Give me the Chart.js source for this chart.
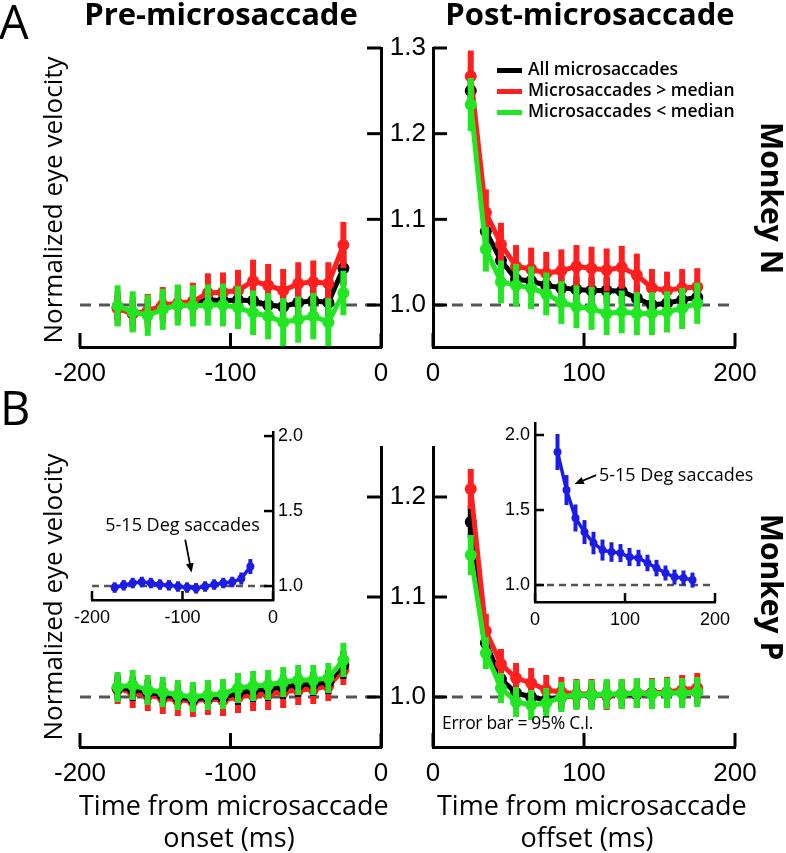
<!DOCTYPE html>
<html>
<head>
<meta charset="utf-8">
<script src="https://cdn.jsdelivr.net/npm/chart.js@4.4.0/dist/chart.umd.min.js"></script>
<style>
body { margin: 0; background: #fff; }
#fig { position: relative; width: 786px; height: 853px; overflow: hidden; }
#fig canvas { position: absolute; left: 0; top: 0; }
.t { position: absolute; white-space: nowrap; font-family: 'Open Sans'; line-height: 1; color: #000; }
.c { text-align: center; }
.sw { position: absolute; width: 25px; height: 5px; }
</style>
</head>
<body>
<div id="fig">
  <canvas id="aPre" width="786" height="853"></canvas>
  <canvas id="aPost" width="786" height="853"></canvas>
  <canvas id="bPre" width="786" height="853"></canvas>
  <canvas id="bPost" width="786" height="853"></canvas>
  <canvas id="insPre" width="786" height="853"></canvas>
  <canvas id="insPost" width="786" height="853"></canvas>

  <div class="t" style="left:-1px;top:-2px;font-size:47px;">A</div>
  <div class="t" style="left:0px;top:384px;font-size:47px;">B</div>
  <div class="t c" style="left:21px;width:400px;top:-2px;font-size:31px;font-weight:700;">Pre-microsaccade</div>
  <div class="t c" style="left:390px;width:400px;top:-2px;font-size:31px;font-weight:700;">Post-microsaccade</div>

  <div class="t c" style="left:-98px;width:300px;top:187px;font-size:26px;transform:rotate(-90deg);">Normalized eye velocity</div>
  <div class="t c" style="left:-98px;width:300px;top:584px;font-size:26px;transform:rotate(-90deg);">Normalized eye velocity</div>
  <div class="t c" style="left:672px;width:200px;top:183px;font-size:30px;font-weight:700;transform:rotate(90deg);">Monkey N</div>
  <div class="t c" style="left:672px;width:200px;top:572px;font-size:30px;font-weight:700;transform:rotate(90deg);">Monkey P</div>

  <div class="t c" style="left:79px;width:300px;top:791px;font-size:27px;">Time from microsaccade</div>
  <div class="t c" style="left:79px;width:300px;top:823px;font-size:27px;">onset (ms)</div>
  <div class="t c" style="left:437px;width:300px;top:791px;font-size:27px;">Time from microsaccade</div>
  <div class="t c" style="left:437px;width:300px;top:823px;font-size:27px;">offset (ms)</div>

  <div class="sw" style="left:497px;top:68px;background:#000;"></div>
  <div class="sw" style="left:497px;top:89px;background:#ff1f1f;"></div>
  <div class="sw" style="left:497px;top:110px;background:#22e622;"></div>
  <div class="t" style="left:528px;top:60px;font-size:17.5px;font-weight:600;">All microsaccades</div>
  <div class="t" style="left:528px;top:81px;font-size:17.5px;font-weight:600;">Microsaccades &gt; median</div>
  <div class="t" style="left:528px;top:102px;font-size:17.5px;font-weight:600;">Microsaccades &lt; median</div>

  <div class="t" style="left:442px;top:714px;font-size:17.5px;letter-spacing:-0.3px;">Error bar = 95% C.I.</div>
</div>

<script>
// time bins (ms)
const tPre = [-175, -165, -155, -145, -135, -125, -115, -105, -95, -85, -75, -65, -55, -45, -35, -25];
const tPost = [25, 35, 45, 55, 65, 75, 85, 95, 105, 115, 125, 135, 145, 155, 165, 175];

// Monkey N
const nPreAll   = [0.997, 0.990, 0.992, 0.998, 1.000, 1.002, 1.006, 1.005, 1.006, 1.005, 1.000, 0.998, 1.003, 1.005, 1.003, 1.043];
const nPreBig   = [0.996, 0.990, 0.993, 1.000, 1.002, 1.004, 1.014, 1.015, 1.017, 1.028, 1.023, 1.017, 1.025, 1.027, 1.025, 1.070];
const nPreSmall = [0.999, 0.992, 0.988, 0.995, 1.000, 0.999, 1.000, 1.000, 0.997, 0.991, 0.987, 0.980, 0.983, 0.987, 0.980, 1.014];
const nPreAllErr   = [0.015, 0.015, 0.015, 0.015, 0.015, 0.015, 0.015, 0.015, 0.016, 0.016, 0.016, 0.017, 0.017, 0.017, 0.017, 0.020];
const nPreBigErr   = [0.020, 0.020, 0.020, 0.021, 0.021, 0.022, 0.023, 0.023, 0.024, 0.025, 0.025, 0.025, 0.025, 0.025, 0.025, 0.027];
const nPreSmallErr = [0.024, 0.024, 0.024, 0.024, 0.024, 0.024, 0.024, 0.025, 0.025, 0.026, 0.027, 0.028, 0.027, 0.027, 0.028, 0.026];

const nPostAll   = [1.250, 1.086, 1.052, 1.030, 1.028, 1.023, 1.020, 1.018, 1.017, 1.017, 1.016, 1.008, 1.000, 1.002, 1.006, 1.009];
const nPostBig   = [1.267, 1.108, 1.071, 1.045, 1.042, 1.037, 1.040, 1.045, 1.043, 1.041, 1.044, 1.035, 1.020, 1.017, 1.020, 1.021];
const nPostSmall = [1.234, 1.065, 1.027, 1.023, 1.020, 1.013, 1.003, 0.998, 0.996, 0.990, 0.992, 0.990, 0.990, 0.992, 0.996, 1.002];
const nPostAllErr   = [0.020, 0.017, 0.016, 0.015, 0.015, 0.015, 0.015, 0.015, 0.015, 0.015, 0.015, 0.015, 0.015, 0.015, 0.015, 0.015];
const nPostBigErr   = [0.030, 0.027, 0.025, 0.025, 0.025, 0.025, 0.025, 0.025, 0.025, 0.025, 0.025, 0.025, 0.022, 0.022, 0.022, 0.022];
const nPostSmallErr = [0.031, 0.026, 0.025, 0.025, 0.025, 0.025, 0.025, 0.025, 0.025, 0.025, 0.025, 0.025, 0.025, 0.024, 0.024, 0.024];

// Monkey P
const pPreAll   = [1.009, 1.008, 1.005, 1.002, 1.000, 0.998, 1.000, 1.000, 1.004, 1.007, 1.008, 1.010, 1.012, 1.013, 1.015, 1.032];
const pPreBig   = [1.008, 1.005, 1.002, 0.999, 0.997, 0.996, 0.998, 0.997, 1.000, 1.002, 1.003, 1.005, 1.007, 1.008, 1.011, 1.027];
const pPreSmall = [1.010, 1.012, 1.007, 1.005, 1.002, 1.000, 1.002, 1.003, 1.009, 1.011, 1.012, 1.015, 1.017, 1.017, 1.019, 1.037];
const pPreAllErr   = [0.012, 0.012, 0.012, 0.012, 0.012, 0.012, 0.012, 0.012, 0.012, 0.012, 0.012, 0.012, 0.012, 0.012, 0.012, 0.014];
const pPreBigErr   = [0.015, 0.016, 0.016, 0.016, 0.016, 0.016, 0.016, 0.016, 0.016, 0.016, 0.016, 0.016, 0.015, 0.015, 0.015, 0.015];
const pPreSmallErr = [0.015, 0.015, 0.015, 0.015, 0.015, 0.015, 0.015, 0.015, 0.015, 0.015, 0.015, 0.015, 0.015, 0.015, 0.015, 0.017];

const pPostAll   = [1.175, 1.054, 1.018, 1.004, 1.000, 0.997, 1.000, 1.002, 1.002, 1.002, 1.003, 1.003, 1.004, 1.004, 1.005, 1.005];
const pPostBig   = [1.208, 1.066, 1.033, 1.019, 1.014, 1.007, 1.005, 1.003, 1.003, 1.002, 1.003, 1.004, 1.004, 1.005, 1.007, 1.009];
const pPostSmall = [1.142, 1.044, 1.009, 0.995, 0.992, 0.994, 1.000, 1.002, 1.002, 1.003, 1.003, 1.004, 1.003, 1.004, 1.004, 1.005];
const pPostAllErr   = [0.016, 0.013, 0.012, 0.012, 0.012, 0.012, 0.012, 0.012, 0.012, 0.012, 0.012, 0.012, 0.012, 0.012, 0.012, 0.012];
const pPostBigErr   = [0.020, 0.017, 0.015, 0.015, 0.015, 0.015, 0.015, 0.015, 0.015, 0.015, 0.015, 0.015, 0.015, 0.015, 0.015, 0.015];
const pPostSmallErr = [0.020, 0.016, 0.015, 0.015, 0.015, 0.015, 0.015, 0.015, 0.015, 0.015, 0.015, 0.015, 0.015, 0.015, 0.015, 0.015];

// 5-15 deg saccades (insets)
const sacPre  = [0.990, 1.005, 1.020, 1.027, 1.020, 1.010, 1.005, 0.997, 0.990, 0.985, 0.997, 1.010, 1.020, 1.027, 1.050, 1.130];
const sacPreErr  = [0.035, 0.035, 0.035, 0.035, 0.035, 0.035, 0.035, 0.035, 0.035, 0.035, 0.035, 0.035, 0.035, 0.035, 0.040, 0.050];
const sacPost = [1.887, 1.633, 1.447, 1.353, 1.280, 1.233, 1.220, 1.213, 1.187, 1.180, 1.147, 1.113, 1.080, 1.053, 1.047, 1.033];
const sacPostErr = [0.120, 0.100, 0.090, 0.080, 0.075, 0.070, 0.065, 0.060, 0.060, 0.055, 0.055, 0.055, 0.050, 0.050, 0.050, 0.050];

// axis ticks
const xTicksPre = [-200, -100, 0];
const xTicksPost = [0, 100, 200];
const yTicksN = [1.0, 1.1, 1.2, 1.3];
const yTicksP = [1.0, 1.1, 1.2];
const yTicksInset = [1.0, 1.5, 2.0];
const refLevel = 1.0;

const colAll = '#000000', colBig = '#ff1f1f', colSmall = '#22e622', colSac = '#1c1ce6';

Chart.defaults.font.family = "'Liberation Sans', Arial, sans-serif";
Chart.defaults.color = '#000';

// vertical error bars, drawn just before each line dataset
const errorBars = {
    id: 'errorBars',
    beforeDatasetDraw(chart, args) {
        const ds = chart.data.datasets[args.index];
        if (!ds.errors) return;
        const ys = chart.scales.y;
        const ctx = chart.ctx;
        ctx.save();
        ctx.strokeStyle = ds.borderColor;
        ctx.lineWidth = ds.barWidth;
        ds.data.forEach((p, i) => {
            const x = args.meta.data[i].x;
            ctx.beginPath();
            ctx.moveTo(x, ys.getPixelForValue(p.y - ds.errors[i]));
            ctx.lineTo(x, ys.getPixelForValue(p.y + ds.errors[i]));
            ctx.stroke();
        });
        ctx.restore();
    }
};

// tick marks pointing into the plot
const inTicks = {
    id: 'inTicks',
    afterDraw(chart, args, opts) {
        const ctx = chart.ctx;
        const ca = chart.chartArea;
        ctx.save();
        ctx.strokeStyle = '#000';
        ctx.lineWidth = opts.width;
        Object.values(chart.scales).forEach(s => {
            s.ticks.forEach(t => {
                const p = s.getPixelForValue(t.value);
                ctx.beginPath();
                if (s.isHorizontal()) {
                    ctx.moveTo(p, ca.bottom);
                    ctx.lineTo(p, ca.bottom - opts.len);
                } else if (s.position === 'left') {
                    ctx.moveTo(ca.left, p);
                    ctx.lineTo(ca.left + opts.len, p);
                } else {
                    ctx.moveTo(ca.right, p);
                    ctx.lineTo(ca.right - opts.len, p);
                }
                ctx.stroke();
            });
        });
        ctx.restore();
    }
};

// text + arrow in the insets, placed in data units
const note = {
    id: 'note',
    afterDraw(chart, args, o) {
        if (!o.text) return;
        const { x, y } = chart.scales;
        const ctx = chart.ctx;
        ctx.save();
        ctx.fillStyle = '#000';
        ctx.strokeStyle = '#000';
        ctx.font = "18px 'Open Sans'";
        ctx.textAlign = o.align;
        ctx.textBaseline = 'middle';
        ctx.fillText(o.text, x.getPixelForValue(o.at[0]), y.getPixelForValue(o.at[1]));
        const x1 = x.getPixelForValue(o.from[0]), y1 = y.getPixelForValue(o.from[1]);
        const x2 = x.getPixelForValue(o.to[0]), y2 = y.getPixelForValue(o.to[1]);
        ctx.lineWidth = 1.8;
        const a = Math.atan2(y2 - y1, x2 - x1);
        ctx.beginPath();
        ctx.moveTo(x1, y1);
        ctx.lineTo(x2 - 6 * Math.cos(a), y2 - 6 * Math.sin(a));
        ctx.stroke();
        ctx.beginPath();
        ctx.moveTo(x2, y2);
        ctx.lineTo(x2 - 10 * Math.cos(a - 0.4), y2 - 10 * Math.sin(a - 0.4));
        ctx.lineTo(x2 - 10 * Math.cos(a + 0.4), y2 - 10 * Math.sin(a + 0.4));
        ctx.closePath();
        ctx.fill();
        ctx.restore();
    }
};

function series(xs, ys, err, color, order, st) {
    return {
        data: xs.map((t, i) => ({ x: t, y: ys[i] })),
        errors: err,
        borderColor: color,
        backgroundColor: color,
        borderWidth: st.line,
        pointRadius: st.pt,
        pointBorderWidth: 0,
        barWidth: st.bar,
        order: order
    };
}

function baseline(xr, st) {
    return {
        data: [{ x: xr[0], y: refLevel }, { x: xr[1], y: refLevel }],
        borderColor: '#555',
        borderWidth: st.dashW,
        borderDash: st.dash,
        pointRadius: 0,
        order: 9
    };
}

const big = { line: 5, pt: 6, bar: 6, dashW: 3, dash: [11, 8], axisW: 3, tick: 14, font: 26, padX: 11, padY: 7, hx: 48, wy: 52 };
const small = { line: 3.5, pt: 4, bar: 4, dashW: 2.5, dash: [7, 5], axisW: 2.5, tick: 9, font: 18, padX: 7, padY: 5, hx: 34, wy: 42 };

// area = plot rectangle in page pixels; the canvas covers the whole page
function makeChart(id, area, xr, xt, yr, yt, yPos, yLabels, datasets, st, noteOpts) {
    const pad = {
        top: area.top,
        bottom: 853 - area.bottom - st.hx,
        left: yPos === 'left' ? area.left - st.wy : area.left,
        right: yPos === 'left' ? 786 - area.right : 786 - area.right - st.wy
    };
    return new Chart(document.getElementById(id), {
        type: 'line',
        data: { datasets: datasets },
        options: {
            responsive: false,
            animation: false,
            devicePixelRatio: 1,
            layout: { padding: pad },
            plugins: {
                legend: { display: false },
                tooltip: { enabled: false },
                inTicks: { len: st.tick, width: st.axisW },
                note: noteOpts || {}
            },
            scales: {
                x: {
                    type: 'linear', min: xr[0], max: xr[1],
                    grid: { display: false, drawTicks: false },
                    border: { display: true, color: '#000', width: st.axisW },
                    afterBuildTicks: s => { s.ticks = xt.map(v => ({ value: v })); },
                    afterFit: s => { s.height = st.hx; },
                    ticks: { font: { size: st.font }, padding: st.padX, maxRotation: 0, autoSkip: false, callback: v => String(v) }
                },
                y: {
                    type: 'linear', position: yPos, min: yr[0], max: yr[1],
                    grid: { display: false, drawTicks: false },
                    border: { display: true, color: '#000', width: st.axisW },
                    afterBuildTicks: s => { s.ticks = yt.map(v => ({ value: v })); },
                    afterFit: s => { s.width = st.wy; },
                    ticks: { display: yLabels, font: { size: st.font }, padding: st.padY, autoSkip: false, callback: v => v.toFixed(1) }
                }
            }
        },
        plugins: [errorBars, inTicks, note]
    });
}

const rangeN = [0.951, 1.3];
const rangeP = [0.95, 1.25];

makeChart('aPre', { left: 80, top: 48, right: 381, bottom: 347 }, [-200, 0], xTicksPre, rangeN, yTicksN, 'right', false, [
    baseline([-200, 0], big),
    series(tPre, nPreAll, nPreAllErr, colAll, 3, big),
    series(tPre, nPreBig, nPreBigErr, colBig, 2, big),
    series(tPre, nPreSmall, nPreSmallErr, colSmall, 1, big)
], big);

makeChart('aPost', { left: 433, top: 48, right: 735, bottom: 347 }, [0, 200], xTicksPost, rangeN, yTicksN, 'left', true, [
    baseline([0, 200], big),
    series(tPost, nPostAll, nPostAllErr, colAll, 3, big),
    series(tPost, nPostBig, nPostBigErr, colBig, 2, big),
    series(tPost, nPostSmall, nPostSmallErr, colSmall, 1, big)
], big);

makeChart('bPre', { left: 80, top: 447, right: 381, bottom: 747 }, [-200, 0], xTicksPre, rangeP, yTicksP, 'right', false, [
    baseline([-200, 0], big),
    series(tPre, pPreBig, pPreBigErr, colBig, 3, big),
    series(tPre, pPreAll, pPreAllErr, colAll, 2, big),
    series(tPre, pPreSmall, pPreSmallErr, colSmall, 1, big)
], big);

makeChart('bPost', { left: 433, top: 447, right: 735, bottom: 747 }, [0, 200], xTicksPost, rangeP, yTicksP, 'left', true, [
    baseline([0, 200], big),
    series(tPost, pPostAll, pPostAllErr, colAll, 3, big),
    series(tPost, pPostBig, pPostBigErr, colBig, 2, big),
    series(tPost, pPostSmall, pPostSmallErr, colSmall, 1, big)
], big);

makeChart('insPre', { left: 92, top: 432, right: 273, bottom: 600 }, [-200, 0], xTicksPre, [0.907, 2.027], yTicksInset, 'right', true, [
    baseline([-200, 0], small),
    series(tPre, sacPre, sacPreErr, colSac, 1, small)
], small, { text: '5-15 Deg saccades', align: 'center', at: [-100, 1.40], from: [-97, 1.31], to: [-90, 1.09] });

makeChart('insPost', { left: 535, top: 423, right: 715, bottom: 602 }, [0, 200], xTicksPost, [0.887, 2.08], yTicksInset, 'left', true, [
    baseline([0, 200], small),
    series(tPost, sacPost, sacPostErr, colSac, 1, small)
], small, { text: '5-15 Deg saccades', align: 'left', at: [71, 1.727], from: [68, 1.733], to: [44, 1.673] });
</script>
</body>
</html>
